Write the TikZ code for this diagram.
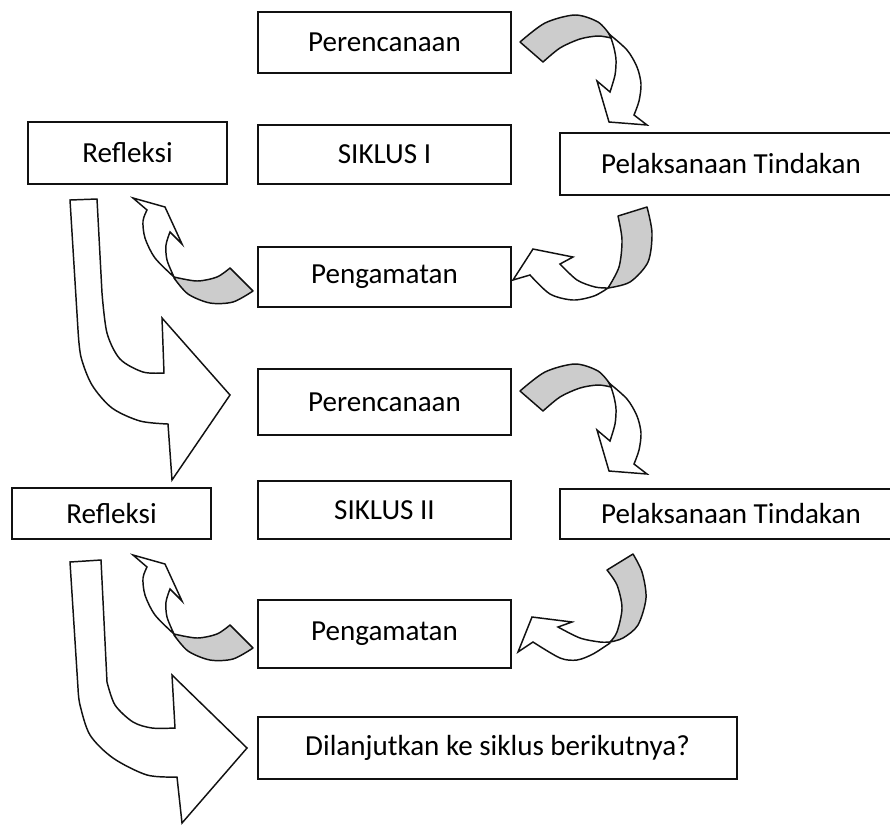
\documentclass[tikz,border=0pt]{standalone}
\usepackage{fontspec}
\setmainfont{Carlito}
\definecolor{shade}{HTML}{CCCCCC}
\definecolor{edge}{HTML}{111111}
\usepackage{tikz}
\newcommand{\pxu}{0.375pt}
\tikzset{
  box/.style={
    draw=edge, line width=0.75pt, inner sep=0pt,
    font=\fontsize{10.9}{13}\selectfont, align=center
  },
  backface/.style={draw=edge, line width=0.55pt, fill=shade, line join=round},
  frontface/.style={draw=edge, line width=0.55pt, fill=white, line join=miter},
}

\begin{document}
\begin{tikzpicture}[x=\pxu, y=-\pxu]
  \clip (0,0) rectangle (890,825);

  % Siklus I
  \node[box, minimum width=253*\pxu, minimum height=61*\pxu] (plan1) at (384.5,42.5) {Perencanaan};
  \node[box, minimum width=253*\pxu, minimum height=59*\pxu] (cyc1) at (384.5,154.5) {SIKLUS I};
  \node[box, minimum width=199*\pxu, minimum height=62*\pxu] (refl1) at (127.5,153) {Refleksi};
  \node[box, minimum width=342*\pxu, minimum height=62*\pxu] (act1) at (731,164) {Pelaksanaan Tindakan};
  \node[box, minimum width=253*\pxu, minimum height=60*\pxu] (obs1) at (384.5,277) {Pengamatan};

  % Siklus II
  \node[box, minimum width=253*\pxu, minimum height=66*\pxu] (plan2) at (384.5,402) {Perencanaan};
  \node[box, minimum width=253*\pxu, minimum height=58*\pxu] (cyc2) at (384.5,510) {SIKLUS II};
  \node[box, minimum width=199*\pxu, minimum height=51*\pxu] (refl2) at (111.5,513.5) {Refleksi};
  \node[box, minimum width=342*\pxu, minimum height=50*\pxu] (act2) at (731,514) {Pelaksanaan Tindakan};
  \node[box, minimum width=253*\pxu, minimum height=68*\pxu] (obs2) at (384.5,634) {Pengamatan};

  % Lanjut
  \node[box, minimum width=479*\pxu, minimum height=62*\pxu] (next) at (497.5,748) {Dilanjutkan ke siklus berikutnya?};

  % Perencanaan -> Pelaksanaan
  \foreach \dy in {0,349}{
    \begin{scope}[shift={(0,\dy)}]
      \draw[backface] plot[smooth] coordinates {(520,42) (545,23) (575,15) (598,22) (610,35)}
        -- plot[smooth] coordinates {(611,38) (598,36) (580,39) (560,48) (543,62)} -- cycle;
      \draw[frontface] plot[smooth] coordinates {(609,34) (627,50) (637,67) (641,84) (639,101) (634,115)}
        -- (647,125) -- (609,122) -- (597,81) -- (610,92)
        -- plot[smooth] coordinates {(610,92) (615,75) (616,60) (614,48) (611,38)} -- cycle;
    \end{scope}
  }

  % Pelaksanaan -> Pengamatan
  \draw[backface] (618,216) -- (647,207)
    -- plot[smooth] coordinates {(647,207) (652,233) (648,262) (630,282) (608,288)}
    -- plot[smooth] coordinates {(608,288) (619,267) (622,240) (618,216)} -- cycle;
  \draw[frontface] plot[smooth] coordinates {(608,288) (594,296) (573,300) (550,294) (530,275)}
    -- (513,280) -- (533,249) -- (573,257) -- (560,264)
    -- plot[smooth] coordinates {(560,264) (577,280) (595,287) (608,288)} -- cycle;

  \draw[backface] (607,570) -- (633,554)
    -- plot[smooth] coordinates {(633,554) (642,572) (646,598) (638,625) (623,638) (610,642)}
    -- plot[smooth] coordinates {(610,642) (617,632) (622,608) (617,585) (607,570)} -- cycle;
  \draw[frontface] plot[smooth] coordinates {(610,643) (593,654) (577,660) (560,658) (533,642)}
    -- (518,652) -- (532,617) -- (572,622) -- (558,627)
    -- plot[smooth] coordinates {(558,627) (580,638) (600,642) (610,642)} -- cycle;

  % Pengamatan -> Refleksi
  \foreach \dy in {0,357}{
    \begin{scope}[shift={(0,\dy)}]
      \draw[backface] (230,268) -- (253,291)
        -- plot[smooth] coordinates {(253,291) (233,302) (210,303) (188,294) (174,278)}
        -- plot[smooth] coordinates {(174,277) (197,281) (217,277) (230,268)} -- cycle;
      \draw[frontface] plot[smooth] coordinates {(174,277) (155,258) (145,238) (143,221) (147,210)}
        -- (133,198) -- (165,207) -- (182,244) -- (170,232)
        -- plot[smooth] coordinates {(170,232) (166,245) (167,260) (174,277)} -- cycle;
    \end{scope}
  }

  % Refleksi -> Perencanaan berikutnya
  \draw[frontface] (70,200) -- (97,199) -- (102,293)
    -- plot[smooth] coordinates {(102,293) (107,333) (120,359) (143,372) (164,373)}
    -- (162,318) -- (230,395) -- (172,480) -- (168,424)
    -- plot[smooth] coordinates {(168,424) (140,421) (112,408) (92,385) (81,357) (78,330)}
    -- cycle;
  \draw[frontface] (70,562) -- (101,560) -- (107,682)
    -- plot[smooth] coordinates {(107,682) (115,705) (133,722) (152,728) (175,728)}
    -- (172,675) -- (247,748) -- (182,823) -- (177,777)
    -- plot[smooth] coordinates {(177,777) (147,775) (113,758) (90,735) (80,705) (78,688)}
    -- cycle;
\end{tikzpicture}
\end{document}
